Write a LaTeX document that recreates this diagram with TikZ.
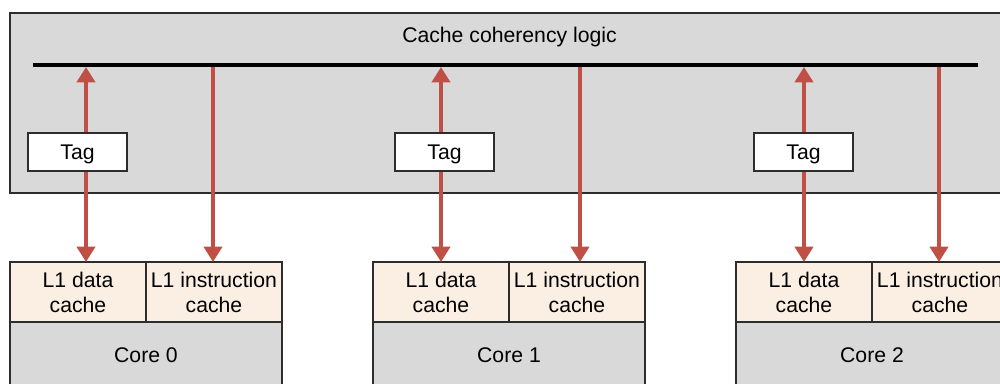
\documentclass[tikz,border=0pt]{standalone}
\usepackage{fontspec}
\setmainfont{Liberation Sans}
\usetikzlibrary{arrows.meta}
\definecolor{boxgray}{RGB}{217,217,217}
\definecolor{peach}{RGB}{251,238,227}
\definecolor{arrowred}{RGB}{192,80,70}
\definecolor{edgegray}{RGB}{45,45,45}
\begin{document}
\begin{tikzpicture}[x=0.75pt,y=-0.75pt,
  every node/.style={font=\fontsize{15.9}{18.75}\selectfont, inner sep=0pt, outer sep=0pt},
  bigbox/.style={draw=edgegray, line width=1.1pt, fill=boxgray, minimum width=750pt, minimum height=135pt},
  cachebox/.style={draw=edgegray, line width=1.1pt, fill=peach, minimum width=102pt, minimum height=45pt, align=center},
  corebox/.style={draw=edgegray, line width=1.1pt, fill=boxgray, minimum width=204pt, minimum height=49.5pt},
  tagbox/.style={draw=edgegray, line width=1.1pt, fill=white, minimum width=74.25pt, minimum height=28.5pt, text depth=0pt, text height=11.5pt},
  bus/.style={line width=3pt, black},
  link/.style={arrowred, line width=3pt, -{Triangle[width=13.5pt,length=11.5pt]}},
  duallink/.style={arrowred, line width=3pt, {Triangle[width=13.5pt,length=11.5pt]}-{Triangle[width=13.5pt,length=11.5pt]}}]
\useasboundingbox (0,0) rectangle (1000,383);
\clip (0,0) rectangle (1000,383);
\fill[white] (0,0) rectangle (1000,383);
% coherency box
\node[bigbox] (coh) at (510,103) {};
\node (cohlabel) at (509.5,37) {Cache coherency logic};
\coordinate (busL) at (33,65);
\coordinate (busR) at (978,65);
% cores
\foreach \i/\ax/\bx/\tx in {0/86/213/77.5, 1/441/580/444.5, 2/804/939/803.5} {
  \pgfmathsetmacro{\dx}{363*\i}
  \node[cachebox] (d\i) at (78+\dx,292) {L1 data\\cache};
  \node[cachebox] (n\i) at (214+\dx,292) {L1 instruction\\cache};
  \node[corebox] (c\i) at (146+\dx,355) {Core \i};
  \coordinate (bd\i) at (\ax,67);
  \coordinate (bn\i) at (\bx,65);
  \draw[duallink] (bd\i) -- (bd\i |- d\i.north);
  \draw[link] (bn\i) -- (bn\i |- n\i.north);
  \node[tagbox] (t\i) at (\tx,152) {Tag};
}
\draw[bus] (busL) -- (busR);
\end{tikzpicture}
\end{document}
